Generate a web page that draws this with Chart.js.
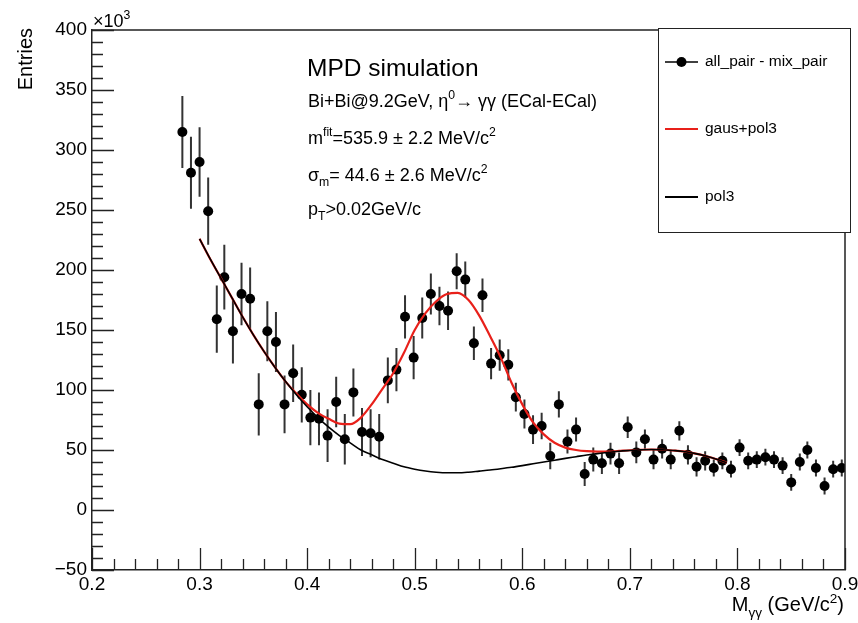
<!DOCTYPE html>
<html>
<head>
<meta charset="utf-8">
<script src="https://cdn.jsdelivr.net/npm/chart.js@4.4.0/dist/chart.umd.min.js"></script>
<style>
  html, body { margin: 0; padding: 0; background: #fff; }
</style>
</head>
<body>
<canvas id="c" width="858" height="623"></canvas>
<script>
// M_gg bin centres (GeV/c^2) and entries (x10^3)
const massX = [
  0.284, 0.292, 0.300, 0.308, 0.316, 0.323, 0.331, 0.339, 0.347, 0.355,
  0.363, 0.371, 0.379, 0.387, 0.395, 0.403, 0.411, 0.419, 0.427, 0.435,
  0.443, 0.451, 0.459, 0.467, 0.475, 0.483, 0.491, 0.499, 0.507, 0.515,
  0.523, 0.531, 0.539, 0.547, 0.555, 0.563, 0.571, 0.579, 0.587, 0.594,
  0.602, 0.610, 0.618, 0.626, 0.634, 0.642, 0.650, 0.658, 0.666, 0.674,
  0.682, 0.690, 0.698, 0.706, 0.714, 0.722, 0.730, 0.738, 0.746, 0.754,
  0.762, 0.770, 0.778, 0.786, 0.794, 0.802, 0.810, 0.818, 0.826, 0.834,
  0.842, 0.850, 0.858, 0.865, 0.873, 0.881, 0.889, 0.897
];
const entries = [
  315, 281, 290, 249, 159, 194, 149, 180, 176, 88,
  149, 140, 88, 114, 96, 77, 76, 62, 90, 59,
  98, 65, 64, 61, 108, 117, 161, 127, 160, 180,
  170, 166, 199, 192, 139, 179, 122, 129, 121, 94,
  80, 67, 70, 45, 88, 57, 67, 30, 42, 39,
  47, 39, 69, 48, 59, 42, 51, 42, 66, 46,
  36, 41, 35, 41, 34, 52, 41, 42, 44, 42,
  37, 23, 40, 50, 35, 20, 34, 35
];
const entryErr = [
  30, 30, 29, 28, 28, 27, 27, 26, 26, 26,
  25, 25, 24, 24, 23, 23, 22, 22, 21, 21,
  20, 20, 20, 19, 19, 18, 18, 18, 17, 17,
  16, 16, 15, 15, 14, 14, 13, 13, 13, 12,
  12, 12, 11, 11, 11, 10, 10, 10, 10, 9,
  9, 9, 9, 9, 8, 8, 8, 8, 8, 8,
  8, 8, 7, 7, 7, 7, 7, 7, 7, 7,
  7, 7, 7, 7, 7, 7, 7, 7
];

// fit curves
const fitX = [
  0.30, 0.31, 0.32, 0.33, 0.34, 0.35, 0.36, 0.37, 0.38, 0.39,
  0.40, 0.41, 0.42, 0.43, 0.44, 0.45, 0.46, 0.47, 0.48, 0.49,
  0.50, 0.51, 0.52, 0.53, 0.54, 0.55, 0.56, 0.57, 0.58, 0.59,
  0.60, 0.61, 0.62, 0.63, 0.64, 0.65, 0.66, 0.67, 0.68, 0.69,
  0.70, 0.71, 0.72, 0.73, 0.74, 0.75, 0.76, 0.77, 0.78, 0.79
];
const fitTotal = [
  226, 209, 193, 177, 161, 146, 132, 119, 107, 97,
  88, 81, 76, 72, 71.5, 77, 88, 101, 114, 131,
  150, 164, 174, 180, 181, 175, 162, 145, 127, 106,
  88, 73, 63, 56, 52, 50, 49, 48.6, 48.6, 49.2,
  49.8, 50.2, 50.4, 50.2, 49.6, 48.8, 47.2, 45.2, 42.5, 39.5
];
const fitBkg = [
  226, 209, 193, 177, 161, 146, 132, 119, 107, 96,
  86, 77, 69, 62, 56, 50, 46, 42, 39, 36,
  34, 32.5, 31.5, 31, 31, 31.5, 32.4, 33.3, 34.4, 35.6,
  37, 38.5, 40, 41.5, 43, 44.4, 45.8, 47, 48, 49,
  49.6, 50.1, 50.4, 50.2, 49.6, 48.8, 47.2, 45.2, 42.5, 39.5
];

const legendLabels = ['all_pair - mix_pair', 'gaus+pol3', 'pol3'];

const FONT = '"Liberation Sans", Arial, Helvetica, sans-serif';
const AXIS = '#222';

// text with ^superscript / _subscript pieces
function richText(ctx, x, y, parts, size, align) {
  let total = 0;
  const items = parts.map(([t, m]) => {
    const s = m ? size * 0.68 : size;
    ctx.font = `${s}px ${FONT}`;
    const w = ctx.measureText(t).width;
    total += w;
    return { t, m, s, w };
  });
  let cx = align === 'right' ? x - total : x;
  items.forEach(it => {
    ctx.font = `${it.s}px ${FONT}`;
    const dy = it.m === '^' ? -size * 0.42 : it.m === '_' ? size * 0.28 : 0;
    ctx.fillText(it.t, cx, y + dy);
    cx += it.w;
  });
}

const errorBars = {
  id: 'errorBars',
  beforeDatasetsDraw(chart) {
    const { ctx, scales: { x, y } } = chart;
    ctx.save();
    ctx.strokeStyle = '#333';
    ctx.lineWidth = 2;
    ctx.beginPath();
    massX.forEach((m, i) => {
      const px = x.getPixelForValue(m);
      ctx.moveTo(px, y.getPixelForValue(entries[i] - entryErr[i]));
      ctx.lineTo(px, y.getPixelForValue(entries[i] + entryErr[i]));
    });
    ctx.stroke();
    ctx.restore();
  }
};

const rootFrame = {
  id: 'rootFrame',
  afterDraw(chart) {
    const { ctx, chartArea: a, scales: { x, y } } = chart;
    ctx.save();
    ctx.strokeStyle = AXIS;
    ctx.lineWidth = 1.5;
    ctx.beginPath();
    ctx.moveTo(a.left, a.top); ctx.lineTo(a.right, a.top); ctx.lineTo(a.right, a.bottom);
    ctx.stroke();

    // inward ticks, ROOT style
    ctx.lineWidth = 1.3;
    ctx.beginPath();
    for (let k = 0; k <= 35; k++) {
      const v = 0.2 + k * 0.02;
      const px = Math.round(x.getPixelForValue(v)) + 0.5;
      const len = k % 5 === 0 ? 22 : 11;
      ctx.moveTo(px, a.bottom); ctx.lineTo(px, a.bottom - len);
    }
    for (let k = 0; k <= 45; k++) {
      const v = -50 + k * 10;
      const py = Math.round(y.getPixelForValue(v)) + 0.5;
      const len = k % 5 === 0 ? 22 : 11;
      ctx.moveTo(a.left, py); ctx.lineTo(a.left + len, py);
    }
    ctx.stroke();

    ctx.fillStyle = '#000';
    ctx.textAlign = 'left';
    ctx.textBaseline = 'alphabetic';

    // x10^3 multiplier
    richText(ctx, a.left + 1, 27, [['\u00d710', ''], ['3', '^']], 18);

    // axis titles
    richText(ctx, a.right - 1, 611, [['M', ''], ['\u03b3\u03b3', '_'], [' (GeV/c', ''], ['2', '^'], [')', '']], 20, 'right');
    ctx.save();
    ctx.translate(32, a.top - 2);
    ctx.rotate(-Math.PI / 2);
    ctx.textAlign = 'right';
    ctx.font = `20px ${FONT}`;
    ctx.fillText('Entries', 0, 0);
    ctx.restore();

    // annotation block
    ctx.font = `24.5px ${FONT}`;
    ctx.fillText('MPD simulation', 307, 76);
    richText(ctx, 308, 107, [['Bi+Bi@9.2GeV, \u03b7', ''], ['0', '^'], ['\u2192 \u03b3\u03b3 (ECal-ECal)', '']], 18);
    richText(ctx, 308, 144, [['m', ''], ['fit', '^'], ['=535.9 \u00b1 2.2 MeV/c', ''], ['2', '^']], 18);
    richText(ctx, 308, 181, [['\u03c3', ''], ['m', '_'], ['= 44.6 \u00b1 2.6 MeV/c', ''], ['2', '^']], 18);
    richText(ctx, 308, 215, [['p', ''], ['T', '_'], ['>0.02GeV/c', '']], 18);

    // legend box
    const bx = 658, by = 28, bw = 192, bh = 204;
    ctx.fillStyle = '#fff';
    ctx.fillRect(bx, by, bw, bh);
    ctx.strokeStyle = AXIS;
    ctx.lineWidth = 1;
    ctx.strokeRect(bx + 0.5, by + 0.5, bw, bh);
    const rows = [62, 129, 197];
    ctx.lineWidth = 1.5;
    ctx.strokeStyle = '#000';
    ctx.beginPath(); ctx.moveTo(665, rows[0]); ctx.lineTo(698, rows[0]); ctx.stroke();
    ctx.fillStyle = '#000';
    ctx.beginPath(); ctx.arc(681.5, rows[0], 5, 0, Math.PI * 2); ctx.fill();
    ctx.lineWidth = 2.2;
    ctx.strokeStyle = '#e8201a';
    ctx.beginPath(); ctx.moveTo(665, rows[1]); ctx.lineTo(698, rows[1]); ctx.stroke();
    ctx.strokeStyle = '#000';
    ctx.lineWidth = 2;
    ctx.beginPath(); ctx.moveTo(665, rows[2]); ctx.lineTo(698, rows[2]); ctx.stroke();
    ctx.fillStyle = '#000';
    ctx.font = `15.5px ${FONT}`;
    ctx.textBaseline = 'middle';
    legendLabels.forEach((l, i) => ctx.fillText(l, 705, rows[i]));
    ctx.restore();
  }
};

new Chart(document.getElementById('c'), {
  type: 'scatter',
  data: {
    datasets: [
      {
        label: legendLabels[2], type: 'line',
        data: fitX.map((v, i) => ({ x: v, y: fitBkg[i] })),
        borderColor: '#000', borderWidth: 1.6, pointRadius: 0,
        cubicInterpolationMode: 'monotone', fill: false
      },
      {
        label: legendLabels[1], type: 'line',
        data: fitX.map((v, i) => ({ x: v, y: fitTotal[i] })),
        borderColor: '#e8201a', borderWidth: 2.2, pointRadius: 0,
        cubicInterpolationMode: 'monotone', fill: false
      },
      {
        label: legendLabels[0],
        data: massX.map((v, i) => ({ x: v, y: entries[i] })),
        backgroundColor: '#000', borderColor: '#000', borderWidth: 0,
        pointRadius: 5, pointStyle: 'circle'
      }
    ]
  },
  options: {
    responsive: false,
    animation: false,
    events: [],
    layout: { padding: { left: 0, top: 30, right: 13, bottom: 0 } },
    plugins: { legend: { display: false }, tooltip: { enabled: false } },
    scales: {
      x: {
        type: 'linear', min: 0.2, max: 0.9,
        afterFit(s) { s.height = 53; s.paddingLeft = 0; s.paddingRight = 0; },
        ticks: {
          stepSize: 0.1, autoSkip: false, maxRotation: 0, padding: 3,
          color: '#000', font: { family: FONT, size: 19 },
          callback: v => v.toFixed(1)
        },
        grid: { display: false, drawTicks: false },
        border: { display: true, color: AXIS, width: 1.5 }
      },
      y: {
        min: -50, max: 400,
        afterFit(s) { s.width = 92; s.paddingTop = 0; s.paddingBottom = 0; },
        ticks: {
          stepSize: 50, padding: 5,
          color: '#000', font: { family: FONT, size: 19 },
          callback: v => (v < 0 ? '\u2212' + Math.abs(v) : String(v))
        },
        grid: { display: false, drawTicks: false },
        border: { display: true, color: AXIS, width: 1.5 }
      }
    }
  },
  plugins: [errorBars, rootFrame]
});
</script>
</body>
</html>
